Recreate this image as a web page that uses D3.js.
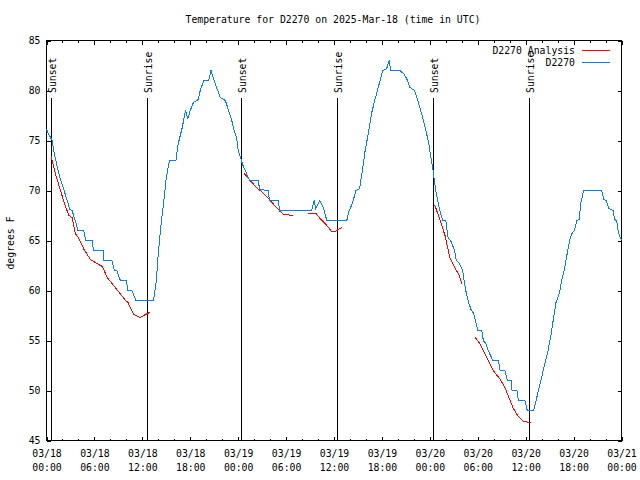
<!DOCTYPE html>
<html><head><meta charset="utf-8">
<script src="https://cdn.jsdelivr.net/npm/d3@7"></script>
<style>
body{margin:0;background:#fff}
svg text{font-family:"DejaVu Sans Mono",monospace;font-size:9.8px;fill:#000}
</style></head>
<body><svg id="c" width="640" height="480"></svg>
<script>
const title = "Temperature for D2270 on 2025-Mar-18 (time in UTC)";
const yLabel = "degrees F";
const seriesNames = ["D2270 Analysis", "D2270"];
const seriesColors = ["#ff0000", "#0a7ee8"];
const yTicks = [45, 50, 55, 60, 65, 70, 75, 80, 85];
const xTickHours = [0, 6, 12, 18, 24, 30, 36, 42, 48, 54, 60, 66, 72];
const sunsetHours = [0.55, 24.3, 48.4];
const sunriseHours = [12.55, 36.4, 60.4];
// observed (hours since 2025-03-18 00:00 UTC, degF)
const obsHours = [0,0.3,0.7,0.9,1.25,1.67,2.2,2.6,2.9,3.2,3.6,3.9,3.95,4.67,4.9,5.7,5.9,7.1,7.2,8.2,8.5,8.8,9.25,10,10.2,10.7,11.2,13.4,13.75,14,14.3,14.7,15,15.4,16.2,16.5,17,17.4,17.7,18,18.4,19,19.25,19.7,20.3,20.6,20.8,21.3,21.75,22.4,22.8,23.2,23.5,23.8,24,24.4,24.6,24.9,25.3,25.5,26.5,26.7,27.8,27.9,29,29.2,33.2,33.5,33.7,34.2,34.7,35.1,37.6,37.9,38.3,38.75,39.2,39.5,39.9,40.3,40.7,41.1,41.5,42.1,42.6,42.9,43.1,44.25,44.7,45.1,45.5,46.1,46.5,46.96,47.4,47.8,48.2,48.4,48.8,49.25,49.6,50,50.3,50.6,51.1,51.3,51.6,52.1,52.5,52.9,53.2,53.5,53.8,54,54.5,54.7,55,55.3,55.9,56.6,56.8,57.4,57.7,58.2,58.3,58.9,59.1,59.9,60.2,61,61.3,61.6,62,62.4,62.8,63.2,63.5,63.8,64.25,64.5,64.9,65.2,65.5,65.8,66.1,66.4,66.7,66.9,67.25,69.5,69.8,70.1,70.4,71,71.1,71.4,71.6,72];
const obsTemps = [76.1,75.6,75,74,72.7,71.3,70,69,68.1,68,67,66.1,66,66,65,65,64,64,63,63,62,62,61,61,60,60,59,59,61,63.7,66.3,69,71.3,73,73,74.7,76.3,78,77.2,78,78.8,79.1,80,81,81,82,81.5,80.3,79.3,79,78,77,76,75.3,74,73,72.5,72,71.2,71,71,70.1,70,69,69,68,68,69,68.2,69,68.2,67,67,68,68.7,70,70.2,71.7,74,75.7,77.7,79,80.2,82,82.2,83,82,82,81.7,81.2,80.3,80,79,77.7,76.3,75,73,72,69.7,68,67,67,65.2,65,64,63,62.8,62,60,58.7,58,57.7,56.7,56,56,55,54.7,54,53,53,52,52,51,51,50,50,49,49,48,48,49,50,51.3,52.7,54,55.7,57.3,58.8,59.8,61,62.3,63.7,65,65.7,66,67,67.1,68.7,70,70,69.1,69,68.2,68,67.1,67,65.8,65];
// analysis (null = gap)
const anaHours = [0.6,1.1,1.75,2.25,2.8,3.2,3.6,4,4.7,5.5,6.3,7,7.6,8.6,9.9,10.2,10.9,11.75,12.4,12.9,null,24.75,25.5,26.3,27.2,28,28.8,29.25,29.7,30.9,null,32.8,33.75,34.25,34.9,35.7,36.1,37,null,48.6,49.25,49.9,50.5,51.1,51.7,52,null,53.6,54.25,54.9,55.5,56.1,56.75,57.4,57.9,58.4,59,59.7,60.7];
const anaTemps = [73.4,71.7,70,68.7,67.5,67.3,65.7,65.3,64.1,63.1,62.7,62.4,61.3,60.3,59,58.8,57.6,57.3,57.6,57.8,null,71.7,71,70.3,69.7,69,68.3,67.9,67.6,67.5,null,67.7,67.7,67.2,66.7,65.9,65.9,66.3,null,68.6,67.1,65.5,63.3,62.3,61.5,60.7,null,55.4,54.7,53.7,52.7,51.8,51.2,50.3,49.3,48.3,47.5,46.9,46.8];

const base = Date.UTC(2025, 2, 18);
const toDate = h => new Date(base + h * 3600e3);
const svg = d3.select("#c");
const L = 46.5, R = 621.5, T = 40.5, B = 440.5;
const x = d3.scaleUtc().domain([toDate(0), toDate(72)]).range([L, R]);
const y = d3.scaleLinear().domain([45, 85]).range([B, T]);

const minorHours = d3.range(0, 73, 2).filter(h => h % 6 !== 0);
const fmtD = d3.utcFormat("%m/%d"), fmtT = d3.utcFormat("%H:%M");

// bottom axis
const gB = svg.append("g").attr("transform", `translate(0,${B})`)
  .call(d3.axisBottom(x).tickValues(xTickHours.map(toDate)).tickSize(-4).tickSizeOuter(0).tickFormat(() => ""));
gB.selectAll("text").remove();
gB.selectAll(".tick").each(function(d){
  const t = d3.select(this).append("text").attr("text-anchor","middle");
  t.append("tspan").attr("x",0).attr("y",16).text(fmtD(d));
  t.append("tspan").attr("x",0).attr("y",30).text(fmtT(d));
});
svg.append("g").attr("transform", `translate(0,${B})`)
  .call(d3.axisBottom(x).tickValues(minorHours.map(toDate)).tickSize(-2).tickSizeOuter(0).tickFormat(""));
// top axis
svg.append("g").attr("transform", `translate(0,${T})`)
  .call(d3.axisTop(x).tickValues(xTickHours.map(toDate)).tickSize(-4).tickSizeOuter(0).tickFormat(""));
svg.append("g").attr("transform", `translate(0,${T})`)
  .call(d3.axisTop(x).tickValues(minorHours.map(toDate)).tickSize(-2).tickSizeOuter(0).tickFormat(""));
// left / right axes
const gL = svg.append("g").attr("transform", `translate(${L},0)`)
  .call(d3.axisLeft(y).tickValues(yTicks).tickSize(-4).tickSizeOuter(0).tickFormat(d3.format("d")));
gL.selectAll("text").attr("x", -6).attr("text-anchor","end");
svg.append("g").attr("transform", `translate(${R},0)`)
  .call(d3.axisRight(y).tickValues(yTicks).tickSize(-4).tickSizeOuter(0).tickFormat(""));
svg.selectAll(".domain").remove();
svg.selectAll(".tick line").attr("stroke","#000").attr("shape-rendering","crispEdges");
svg.selectAll(".tick text").style("font-family",'"DejaVu Sans Mono",monospace').style("font-size","9.8px").attr("fill","#000");
svg.append("rect").attr("x",L).attr("y",T).attr("width",R-L).attr("height",B-T)
  .attr("fill","none").attr("stroke","#000").attr("shape-rendering","crispEdges");

// title & label
svg.append("text").attr("x",333).attr("y",23).attr("text-anchor","middle").text(title);
svg.append("text").attr("transform","translate(14,243) rotate(-90)").attr("text-anchor","middle").text(yLabel);

// sun lines
const sun = sunsetHours.map(h => ({h, label:"Sunset"})).concat(sunriseHours.map(h => ({h, label:"Sunrise"})));
sun.forEach(s => {
  const px = Math.round(x(toDate(s.h))) + 0.5;
  svg.append("line").attr("x1",px).attr("x2",px).attr("y1",98).attr("y2",B)
    .attr("stroke","#000").attr("shape-rendering","crispEdges");
  svg.append("text").attr("transform",`translate(${px+4},93) rotate(-90)`).attr("text-anchor","start").text(s.label);
});

// series
const line = d3.line().defined(d => d[1] != null).x(d => x(toDate(d[0]))).y(d => y(d[1]));
const ana = anaHours.map((h,i) => [h, anaTemps[i]]);
const obs = obsHours.map((h,i) => [h, obsTemps[i]]);
svg.append("path").datum(ana).attr("d", line).attr("fill","none").attr("stroke",seriesColors[0])
  .attr("stroke-width",1).attr("shape-rendering","crispEdges");
svg.append("path").datum(obs).attr("d", line).attr("fill","none").attr("stroke",seriesColors[1])
  .attr("stroke-width",1).attr("shape-rendering","crispEdges");

// legend
seriesNames.forEach((n,i) => {
  const yy = 50 + i*12;
  svg.append("text").attr("x",575).attr("y",yy+3.5).attr("text-anchor","end").text(n);
  svg.append("line").attr("x1",582).attr("x2",610).attr("y1",yy+0.5).attr("y2",yy+0.5)
    .attr("stroke",seriesColors[i]).attr("shape-rendering","crispEdges");
});
</script></body></html>
